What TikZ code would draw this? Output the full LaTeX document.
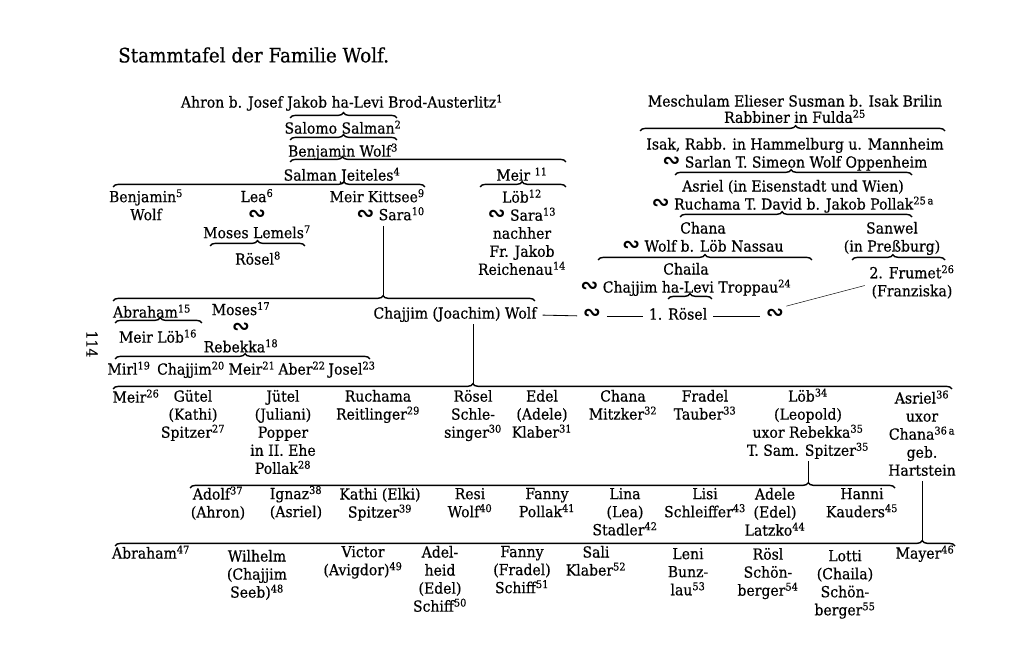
\documentclass[tikz,border=0pt]{standalone}
\usepackage{fontspec}
\newfontfamily\symfont{DejaVu Sans}
\newfontfamily\persfont{DejaVu Serif}[FakeStretch=0.92, FakeBold=0.5]
\usetikzlibrary{decorations.pathreplacing}
\newcommand{\fnr}[1]{\smash{\textsuperscript{#1}}}
\newcommand{\marr}{\smash{\symfont\bfseries\fontsize{18}{15.4}\selectfont ∾}}

\begin{document}
\begin{tikzpicture}[x=0.03cm, y=-0.03cm,
  person/.style={anchor=north, yshift=4.5pt, align=center, inner sep=0pt,
    font=\persfont\fontsize{13}{15.4}\selectfont, execute at begin node=\strut},
  kin/.style={decorate, decoration={brace, amplitude=4.5pt, aspect=#1}, line width=1.2pt},
  kin/.default=0.5,
  wed/.style={shorten <=5pt, shorten >=5pt, line width=0.7pt}]
\useasboundingbox (0,0) rectangle (1024,655);

\node[font=\persfont\fontsize{17}{20}\selectfont, anchor=west, inner sep=0pt] (title) at (118,55) {Stammtafel der Familie Wolf.};
\node[rotate=-90, font=\persfont\fontsize{13}{15}\selectfont, inner sep=0pt] (page) at (92,344) {114};

% Stamm Brod-Austerlitz
\node[person] (ahron) at (342,100) {Ahron b. Josef Jakob ha-Levi Brod-Austerlitz\fnr{1}};
\node[person] (salomo) at (343,126) {Salomo Salman\fnr{2}};
\node[person] (benwolf) at (343,149) {Benjamin Wolf\fnr{3}};
\node[person] (jeiteles) at (342,173) {Salman Jeiteles\fnr{4}};
\node[person] (meir11) at (522,173) {Meir \fnr{11}};
\node[person] (benjamin5) at (146,196) {Benjamin\fnr{5}\\Wolf};
\node[person] (lea) at (257,196) {Lea\fnr{6}\\\marr\\Moses Lemels\fnr{7}};
\node[person] (roesel8) at (258,257) {Rösel\fnr{8}};
\node[person, anchor=north east, align=right] (kittsee) at (425,196) {Meir Kittsee\fnr{9}\\\marr{} Sara\fnr{10}};
\node[person] (loeb12) at (522,196) {Löb\fnr{12}\\\marr{} Sara\fnr{13}\\nachher\\Fr. Jakob\\Reichenau\fnr{14}};

\node[person] (chajjim) at (455,311) {Chajjim (Joachim) Wolf};
\node[person] (abraham15) at (152,310) {Abraham\fnr{15}};
\node[person] (meirloeb) at (158,335) {Meir Löb\fnr{16}};
\node[person] (moses17) at (241,309) {Moses\fnr{17}\\[0.5pt]\marr\\[0.5pt]Rebekka\fnr{18}};
\node[person] (mirl) at (129,367) {Mirl\fnr{19}};
\node[person] (chajjim20) at (191,367) {Chajjim\fnr{20}};
\node[person] (meir21) at (252,367) {Meir\fnr{21}};
\node[person] (aber22) at (302,367) {Aber\fnr{22}};
\node[person] (josel23) at (352,367) {Josel\fnr{23}};

\node[person] (m1) at (592,312) {\marr};
\node[person] (roesel1) at (678,312) {1. Rösel};
\node[person] (m2) at (775,312) {\marr};

% Stamm Brilin
\node[person] (meschulam) at (795,100) {Meschulam Elieser Susman b. Isak Brilin\\[-1.5pt]Rabbiner in Fulda\fnr{25}};
\node[person] (isak) at (795,143) {Isak, Rabb. in Hammelburg u. Mannheim\\\marr{} Sarlan T. Simeon Wolf Oppenheim};
\node[person] (asriel) at (793,185) {Asriel (in Eisenstadt und Wien)\\\marr{} Ruchama T. David b. Jakob Pollak\fnr{25\,a}};
\node[person] (chana) at (703,227) {Chana\\\marr{} Wolf b. Löb Nassau};
\node[person] (sanwel) at (892,227) {Sanwel\\(in Preßburg)};
\node[person] (chaila) at (686,268) {Chaila\\\marr{} Chajjim ha-Levi Troppau\fnr{24}};
\node[person] (frumet) at (912,272) {2. Frumet\fnr{26}\\(Franziska)};

% Kinder
\node[person] (meir26) at (136,395) {Meir\fnr{26}};
\node[person] (guetel) at (193,395) {Gütel\\(Kathi)\\Spitzer\fnr{27}};
\node[person] (juetel) at (283,395) {Jütel\\(Juliani)\\Popper\\in II. Ehe\\Pollak\fnr{28}};
\node[person] (ruchama) at (378,395) {Ruchama\\Reitlinger\fnr{29}};
\node[person] (roesel30) at (473,395) {Rösel\\Schle-\\singer\fnr{30}};
\node[person] (edel) at (542,395) {Edel\\(Adele)\\Klaber\fnr{31}};
\node[person] (chana32) at (623,395) {Chana\\Mitzker\fnr{32}};
\node[person] (fradel) at (705,395) {Fradel\\Tauber\fnr{33}};
\node[person] (loeb34) at (808,395) {Löb\fnr{34}\\(Leopold)\\uxor Rebekka\fnr{35}\\T. Sam. Spitzer\fnr{35}};
\node[person] (asriel36) at (922,397) {Asriel\fnr{36}\\uxor\\Chana\fnr{36\,a}\\geb.\\Hartstein};

\node[person] (adolf) at (218,493) {Adolf\fnr{37}\\(Ahron)};
\node[person] (ignaz) at (296,493) {Ignaz\fnr{38}\\(Asriel)};
\node[person] (kathi) at (380,493) {Kathi (Elki)\\Spitzer\fnr{39}};
\node[person] (resi) at (470,493) {Resi\\Wolf\fnr{40}};
\node[person] (fanny41) at (547,493) {Fanny\\Pollak\fnr{41}};
\node[person] (lina) at (625,493) {Lina\\(Lea)\\Stadler\fnr{42}};
\node[person] (lisi) at (705,493) {Lisi\\Schleiffer\fnr{43}};
\node[person] (adele) at (775,493) {Adele\\(Edel)\\Latzko\fnr{44}};
\node[person] (hanni) at (862,493) {Hanni\\Kauders\fnr{45}};

\node[person] (abraham47) at (151,551) {Abraham\fnr{47}};
\node[person] (wilhelm) at (257,555) {Wilhelm\\(Chajjim\\Seeb)\fnr{48}};
\node[person] (victor) at (363,551) {Victor\\(Avigdor)\fnr{49}};
\node[person] (adelheid) at (440,551) {Adel-\\heid\\(Edel)\\Schiff\fnr{50}};
\node[person] (fanny51) at (522,551) {Fanny\\(Fradel)\\Schiff\fnr{51}};
\node[person] (sali) at (596,551) {Sali\\Klaber\fnr{52}};
\node[person] (leni) at (688,553) {Leni\\Bunz-\\lau\fnr{53}};
\node[person] (roesl) at (768,553) {Rösl\\Schön-\\berger\fnr{54}};
\node[person] (lotti) at (845,555) {Lotti\\(Chaila)\\Schön-\\berger\fnr{55}};
\node[person] (mayer) at (925,551) {Mayer\fnr{46}};

% Klammern
\foreach \xa/\xb/\yy/\asp in {290/397/118/0.5, 290/397/140/0.5, 290/566/162/0.19,
  113/425/187/0.74, 480/566/187/0.49, 210/305/246/0.5, 113/535/301/0.64,
  115/202/323/0.52, 115/370/359/0.51, 113/952/389/0.429, 190/895/488/0.877,
  115/955/546/0.961, 640/945/131/0.51, 675/912/175/0.49, 680/912/217/0.44,
  598/812/260/0.5, 852/945/260/0.44, 668/712/299/0.5}
  \draw[kin=\asp] (\xa,\yy) -- (\xb,\yy);

% Linien
\coordinate (tipS) at (383,296);
\coordinate (tipJ) at (473,384);
\coordinate (tipL) at (808,483);
\coordinate (tipA) at (922,541);
\draw[thin] (tipS |- kittsee.south) -- (tipS);
\draw[thin] (tipJ |- chajjim.south) -- (tipJ);
\draw[thin] (tipL |- loeb34.south) -- (tipL);
\draw[thin] (tipA |- asriel36.south) -- (tipA);
\draw[wed] (chajjim.east) -- (m1.west);
\draw[wed] (m1.east) -- (roesel1.west);
\draw[wed] (roesel1.east) -- (m2.west);
\draw[thin, shorten <=2pt, shorten >=4pt] (m2.north east) -- (frumet.west);
\end{tikzpicture}
\end{document}
